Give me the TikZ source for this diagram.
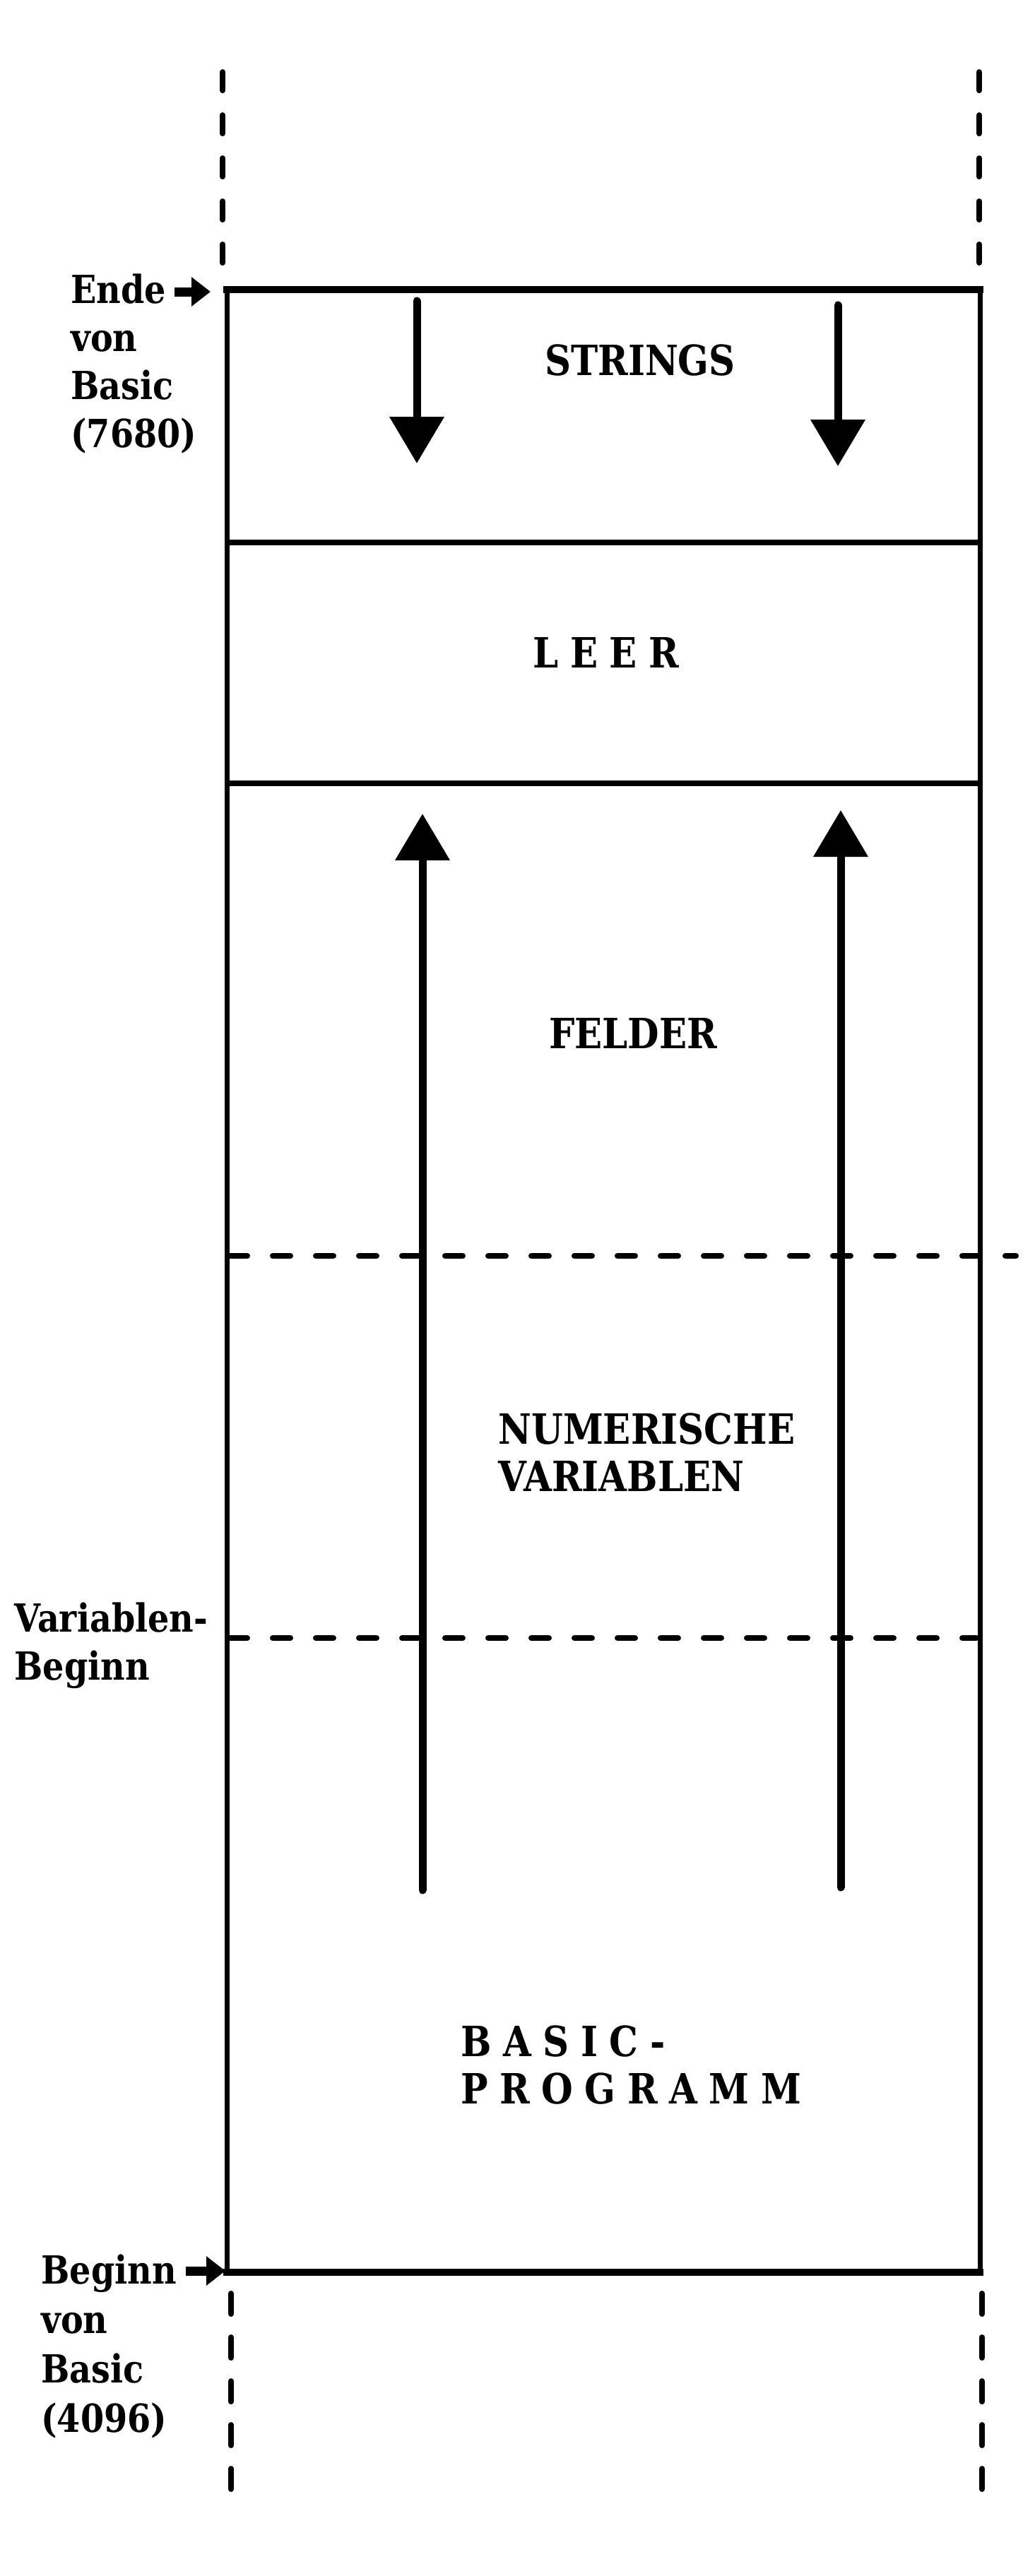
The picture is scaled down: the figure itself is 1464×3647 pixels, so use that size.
\documentclass[tikz,border=0pt]{standalone}
\usepackage{fontspec}
\newfontfamily\slab[FakeStretch=0.87]{DejaVu Serif}
\newfontfamily\slabsp[FakeStretch=0.87,LetterSpace=28]{DejaVu Serif}
\usetikzlibrary{arrows.meta}
\begin{document}
\begin{tikzpicture}[x=0.5pt,y=-0.5pt,
  side/.style={line width=3.5pt},
  edge/.style={line width=5pt,line cap=rect},
  divider/.style={line width=4pt},
  vdash/.style={line width=4pt,line cap=round,dash pattern=on 13pt off 17.5pt},
  vdashb/.style={line width=4pt,line cap=round,dash pattern=on 14.5pt off 16.5pt},
  hdash/.style={line width=4pt,line cap=round,dash pattern=on 12.5pt off 18pt},
  bigarrow/.style={line width=5.5pt,line cap=round,-{Triangle[length=33pt,width=37.5pt]}},
  ptr/.style={line width=6.5pt,-{Triangle[length=13.5pt,width=20pt]}},
  lab/.style={font=\slab\bfseries\fontsize{27.4}{34}\selectfont,align=left,inner sep=0pt},
  inner/.style={font=\slab\bfseries\fontsize{29.5}{33.5}\selectfont,align=left,inner sep=0pt},
  innersp/.style={font=\slabsp\bfseries\fontsize{29.5}{33.5}\selectfont,align=left,inner sep=0pt}
]
\useasboundingbox (0,0) rectangle (1464,3647);

% corners of the memory block
\coordinate (tl) at (321,410);
\coordinate (tr) at (1387,410);
\coordinate (bl) at (321,3217);
\coordinate (br) at (1387,3217);
\coordinate (d1l) at (321,768);  \coordinate (d1r) at (1387,768);
\coordinate (d2l) at (321,1109); \coordinate (d2r) at (1387,1109);

% frame
\draw[side] (tl) -- (bl);
\draw[side] (tr) -- (br);
\draw[edge] (tl) -- (tr);
\draw[edge] (bl) -- (br);
\draw[divider] (d1l) -- (d1r);
\draw[divider] (d2l) -- (d2r);

% dashed continuation lines
\coordinate (tla) at (315,102); \coordinate (tlb) at (315,380);
\coordinate (tra) at (1386,102); \coordinate (trb) at (1386,380);
\coordinate (bla) at (327,3247); \coordinate (blb) at (327,3530);
\coordinate (bra) at (1390,3247); \coordinate (brb) at (1390,3530);
\draw[vdash] (tla) -- (tlb);
\draw[vdash] (tra) -- (trb);
\draw[vdashb] (bla) -- (blb);
\draw[vdashb] (bra) -- (brb);

% dashed region borders
\coordinate (h1a) at (325,1778); \coordinate (h1b) at (1438,1778);
\coordinate (h2a) at (325,2319); \coordinate (h2b) at (1382,2319);
\draw[hdash] (h1a) -- (h1b);
\draw[hdash] (h2a) -- (h2b);

% growth arrows
\coordinate (dl0) at (590,426);  \coordinate (dl1) at (590,656);
\coordinate (dr0) at (1186,432); \coordinate (dr1) at (1186,660);
\coordinate (ul0) at (598,2676); \coordinate (ul1) at (598,1152);
\coordinate (ur0) at (1190,2672); \coordinate (ur1) at (1190,1147);
\draw[bigarrow] (dl0) -- (dl1);
\draw[bigarrow] (dr0) -- (dr1);
\draw[bigarrow] (ul0) -- (ul1);
\draw[bigarrow] (ur0) -- (ur1);

% region names (anchor = baseline of the last line)
\node[inner,anchor=base] (strings) at (906,531) {STRINGS};
\node[innersp,anchor=base] (leer) at (858,945) {LEER};
\node[inner,anchor=base] (felder) at (896,1484) {FELDER};
\node[inner,anchor=base west] (numvar) at (705,2111) {NUMERISCHE\\VARIABLEN};
\node[innersp,anchor=base west] (basic) at (652,2978) {BASIC-\\PROGRAMM};

% left labels (anchor = baseline of the last line)
\node[lab,anchor=base west] (ende) at (100,633) {Ende\\von\\Basic\\(7680)};
\node[lab,anchor=base west] (varb) at (20,2378) {Variablen-\\Beginn};
\node[lab,anchor=base west,font=\slab\bfseries\fontsize{27.4}{35}\selectfont] (beginn) at (58,3443) {Beginn\\von\\Basic\\(4096)};

% pointer arrows
\coordinate (pe0) at (247,413); \coordinate (pe1) at (298,413);
\coordinate (pb0) at (263,3215); \coordinate (pb1) at (319,3215);
\draw[ptr] (pe0) -- (pe1);
\draw[ptr] (pb0) -- (pb1);
\end{tikzpicture}
\end{document}
